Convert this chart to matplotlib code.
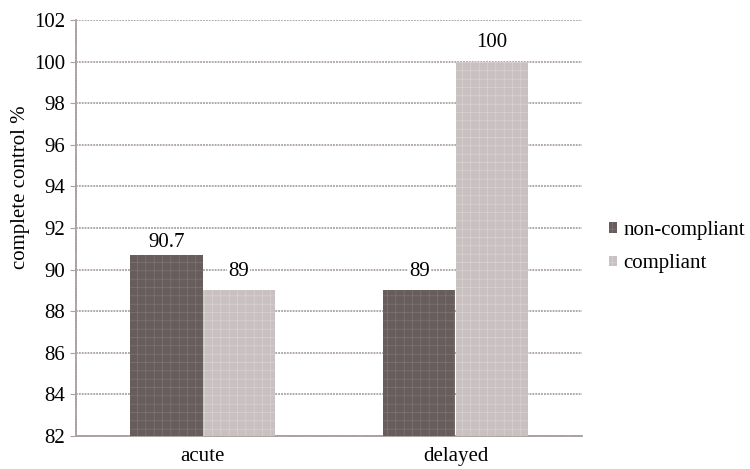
import numpy as np
import matplotlib.pyplot as plt

plt.rcParams['font.family'] = ['Liberation Serif', 'DejaVu Serif']
plt.rcParams['hatch.linewidth'] = 0.4

groups = ['acute', 'delayed']
series = ['non-compliant', 'compliant']
non_compliant = [90.7, 89]
compliant = [89, 100]
colors = ['#675d5d', '#c9c1c1']
hatch_colors = ['#857a7a', '#ddd6d6']

fig = plt.figure(figsize=(7.5, 4.69), dpi=100)
ax = fig.add_axes([76 / 750, 33 / 469, 506 / 750, 416 / 469])

x = np.arange(len(groups))
w = 0.285
for i, (vals, name) in enumerate(zip([non_compliant, compliant], series)):
    pos = x + (i - 0.5) * w
    ax.bar(pos, np.array(vals) - 82, width=w, bottom=82, color=colors[i],
           edgecolor=hatch_colors[i], hatch='++', linewidth=0, label=name, zorder=3)
    for xp, v in zip(pos, vals):
        off = 0.15 if 90 < v < 91 else 0.45
        ax.text(xp, v + off, f'{v:g}', ha='center', va='bottom', fontsize=15,
                zorder=4, bbox=dict(facecolor='white', edgecolor='none', pad=1))

ax.set_xlim(-0.5, 1.5)
ax.set_ylim(82, 102)
ax.set_yticks(np.arange(82, 103, 2))
ax.set_xticks(x)
ax.set_xticklabels(groups, fontsize=15)
ax.tick_params(axis='y', labelsize=15, length=4, color='#aaa0a0', pad=4)
ax.tick_params(axis='x', length=0, pad=8)
ax.yaxis.grid(True, color='#aaa0a0', linewidth=1.3, linestyle=(0, (1, 0.6)), zorder=0)
ax.set_axisbelow(True)
for s in ['top', 'right']:
    ax.spines[s].set_visible(False)
for s in ['left', 'bottom']:
    ax.spines[s].set_color('#aaa0a0')
    ax.spines[s].set_linewidth(1.3)
    ax.spines[s].set_linestyle((0, (1, 0.6)))

fig.text(21 / 750, 1 - 187 / 469, 'complete control %', rotation=90,
         ha='center', va='center', fontsize=15)

leg = fig.legend(loc='center left', bbox_to_anchor=(609 / 750, 1 - 247 / 469),
                 frameon=False, fontsize=15, handlelength=0.4, handleheight=0.4,
                 handletextpad=0.3, labelspacing=0.7, borderpad=0, borderaxespad=0)

fig.savefig('out.png', dpi=100)
